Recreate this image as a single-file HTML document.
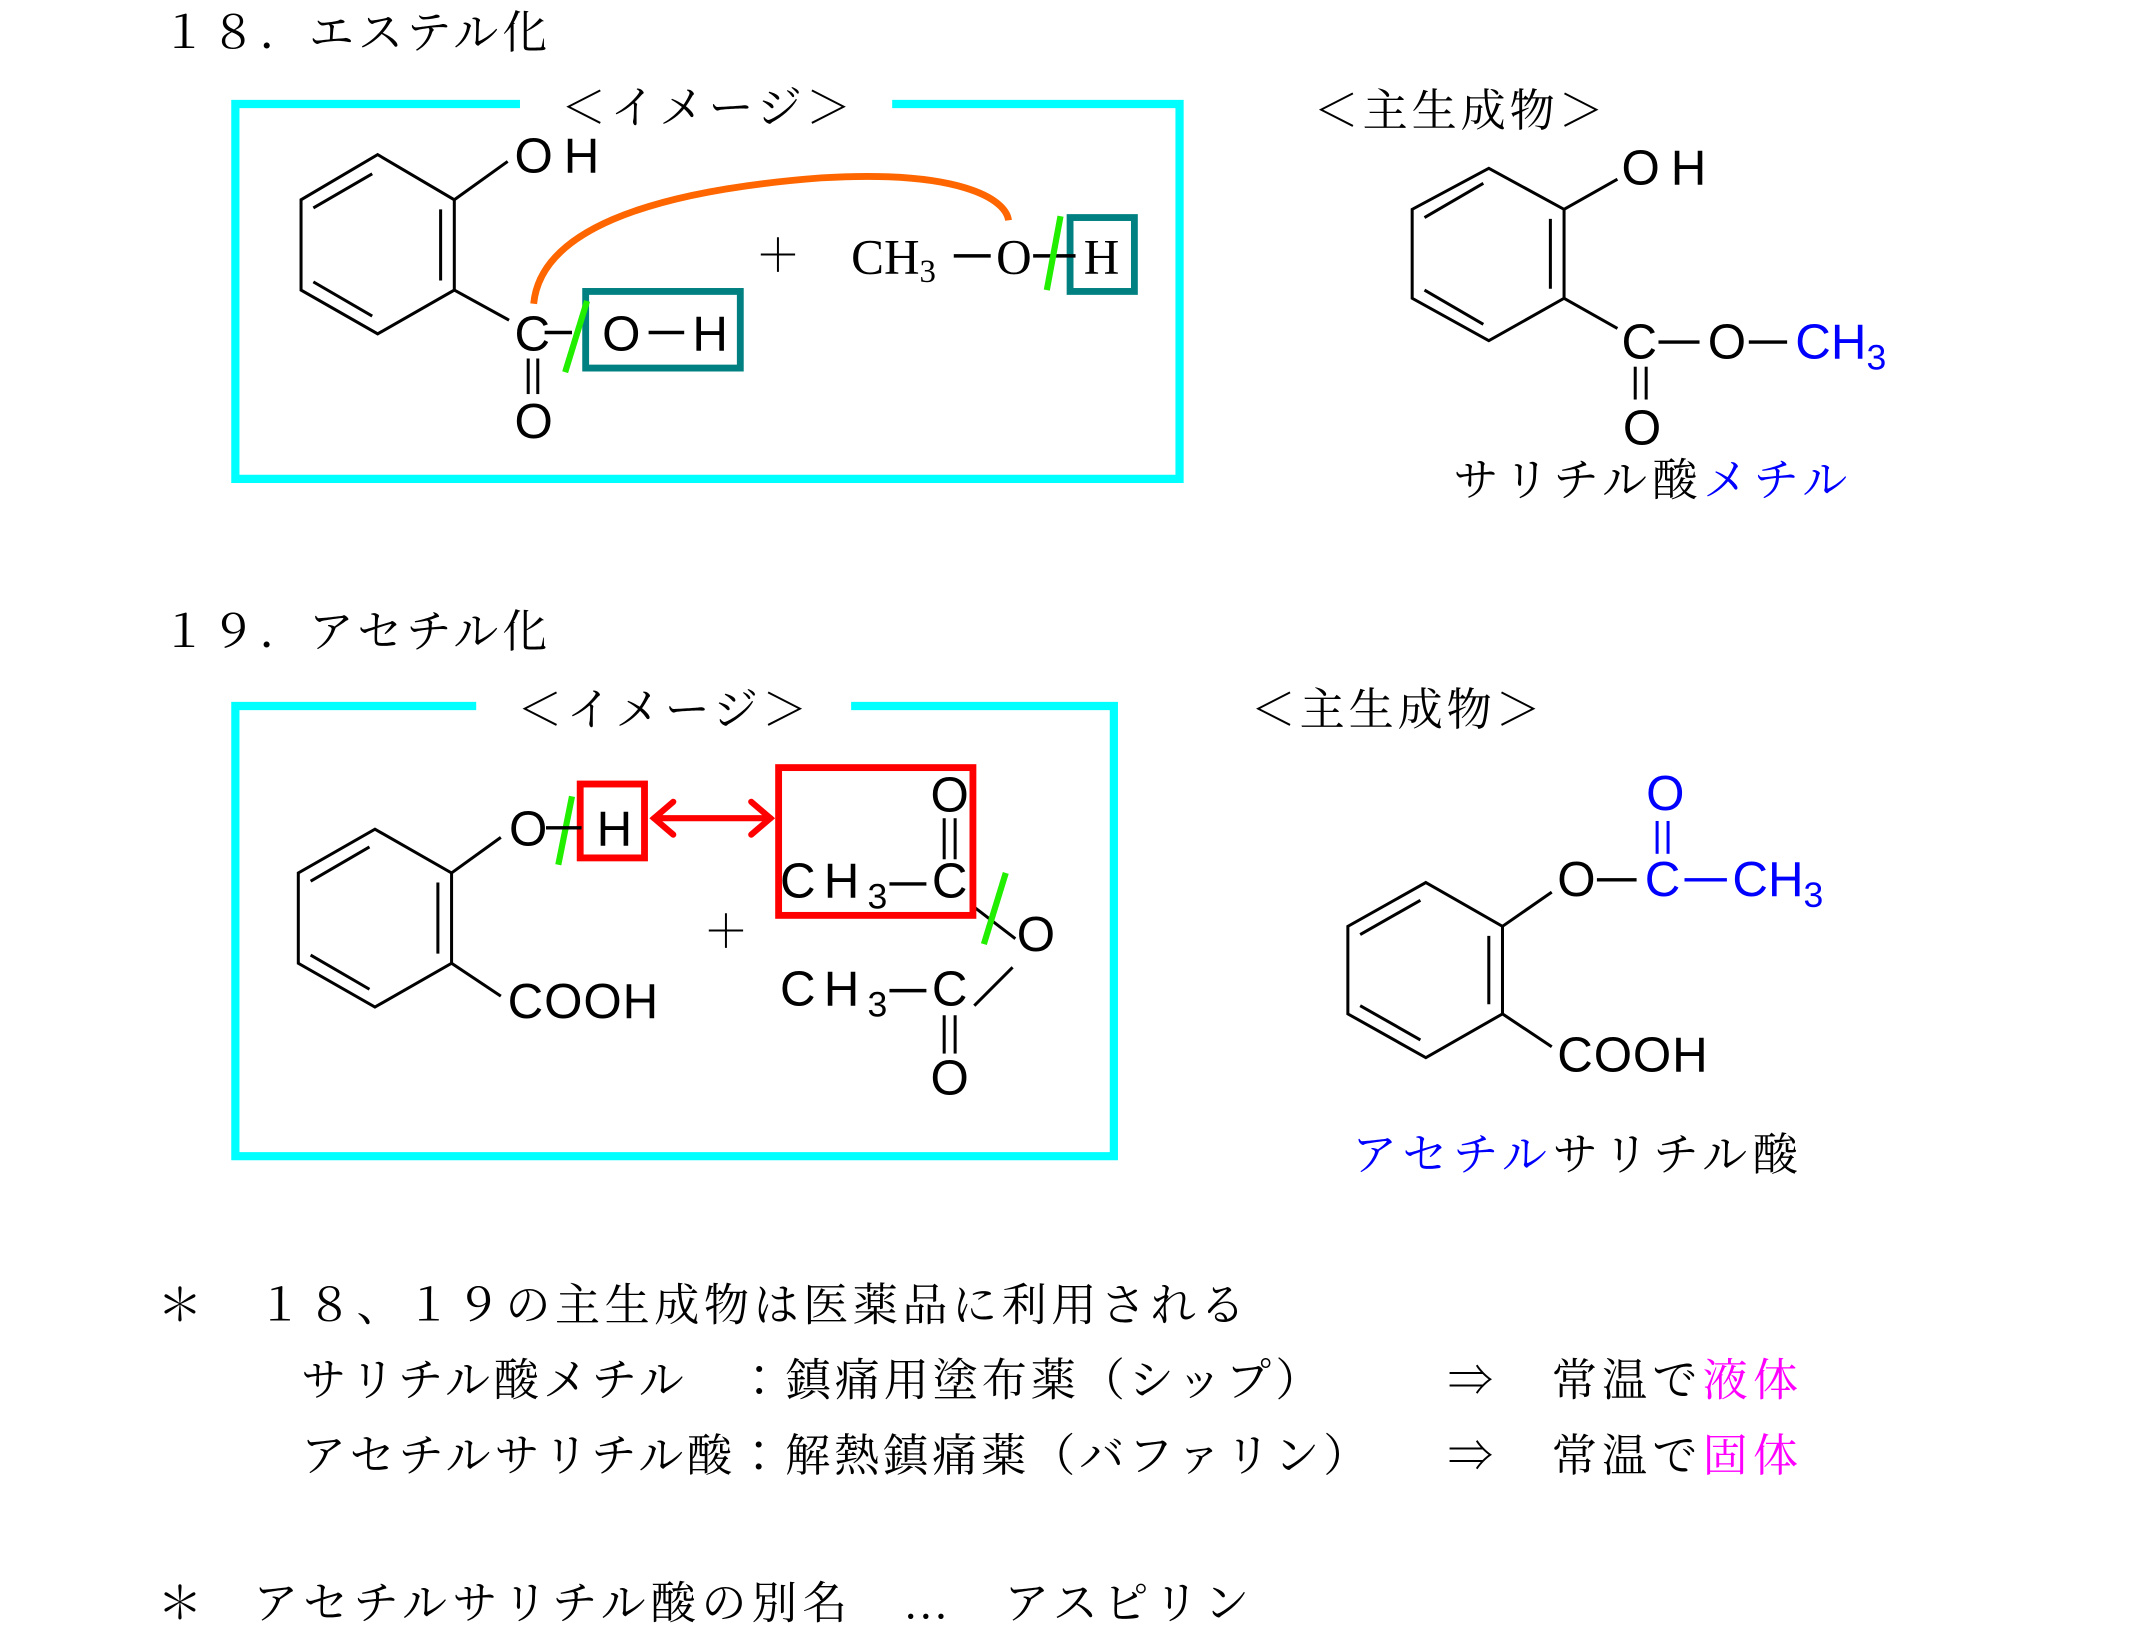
<!DOCTYPE html>
<html><head><meta charset="utf-8">
<style>
html,body{margin:0;padding:0;background:#fff;}
svg{display:block;}
.m{font-family:"Liberation Serif","Noto Serif CJK JP","Noto Serif CJK SC",serif;font-size:33px;fill:#000;}
.s{font-family:"Liberation Sans",sans-serif;font-size:36px;fill:#000;}
.b{fill:#0000ff;}
.sub{font-size:26px;}
.t{font-family:"Liberation Serif",serif;font-size:36px;fill:#000;}
</style></head>
<body>
<svg width="2147" height="1637" viewBox="0 0 1569 1196.4" preserveAspectRatio="none" xmlns="http://www.w3.org/2000/svg">
<g fill="none" stroke="#000" stroke-width="2.2">
<polygon points="276,113 332,146 332,212 276,244 220,212 220,146"/>
<line x1="229" y1="152" x2="272" y2="127"/><line x1="322" y1="153" x2="322" y2="205"/><line x1="229" y1="206" x2="272" y2="231"/>
<line x1="332" y1="146" x2="371" y2="118"/><line x1="332" y1="212" x2="372" y2="234"/>
<line x1="386" y1="262" x2="386" y2="288"/><line x1="393" y1="262" x2="393" y2="288"/>
<polygon points="1088,123 1143,153 1143,218 1088,249 1032,218 1032,153"/>
<line x1="1041" y1="159" x2="1084" y2="134"/><line x1="1133" y1="160" x2="1133" y2="211"/><line x1="1041" y1="212" x2="1084" y2="237"/>
<line x1="1143" y1="153" x2="1182" y2="131"/><line x1="1143" y1="218" x2="1182" y2="240"/>
<line x1="1195" y1="268" x2="1195" y2="292"/><line x1="1203" y1="268" x2="1203" y2="292"/>
<polygon points="274,606 330,638 330,704 274,736 218,704 218,638"/>
<line x1="227" y1="644" x2="270" y2="619"/><line x1="320" y1="645" x2="320" y2="697"/><line x1="227" y1="698" x2="270" y2="723"/>
<line x1="330" y1="638" x2="366" y2="612"/><line x1="330" y1="704" x2="366" y2="728"/>
<line x1="690" y1="598" x2="690" y2="628"/><line x1="698" y1="598" x2="698" y2="628"/>
<line x1="712" y1="663" x2="742" y2="686"/><line x1="740" y1="707" x2="712" y2="735"/>
<line x1="690" y1="742" x2="690" y2="770"/><line x1="698" y1="742" x2="698" y2="770"/>
<polygon points="1042,645 1098,677 1098,741 1042,773 985,741 985,677"/>
<line x1="994" y1="683" x2="1038" y2="658"/><line x1="1088" y1="684" x2="1088" y2="734"/><line x1="994" y1="735" x2="1038" y2="760"/>
<line x1="1098" y1="677" x2="1134" y2="652"/><line x1="1098" y1="741" x2="1134" y2="765"/>
</g>
<g fill="none" stroke="#0000ff" stroke-width="2.2">
<line x1="1211" y1="600" x2="1211" y2="624"/><line x1="1219" y1="600" x2="1219" y2="624"/>
</g>
<g fill="none" stroke="#00ffff" stroke-width="6">
<polyline points="380,76 172,76 172,350 862,350 862,76 652,76"/>
<polyline points="348,516 172,516 172,845 814,845 814,516 622,516"/>
</g>
<path d="M390,222 C395,170 470,140 600,130 C700,124 735,145 737,161" fill="none" stroke="#ff6600" stroke-width="5"/>
<rect x="428" y="213" width="113" height="56" fill="none" stroke="#008080" stroke-width="5"/>
<rect x="782" y="159" width="47" height="54" fill="none" stroke="#008080" stroke-width="5"/>
<rect x="424" y="573" width="47" height="54" fill="none" stroke="#ff0000" stroke-width="5"/>
<rect x="569" y="561" width="142" height="108" fill="none" stroke="#ff0000" stroke-width="5"/>
<g stroke="#ff0000" stroke-width="4.5" fill="none" stroke-linecap="round">
<line x1="478" y1="598" x2="563" y2="598"/>
<polyline points="492,586 478,598 492,610"/><polyline points="549,586 563,598 549,610"/>
</g>
<text class="m" x="118" y="35" textLength="282">１８．エステル化</text>
<text class="m" x="410" y="90" textLength="212">＜イメージ＞</text>
<text class="s" x="376" y="126" textLength="62">OH</text>
<text class="s" x="376" y="256">C</text>
<line x1="398" y1="243" x2="418" y2="243" stroke="#000" stroke-width="2.5"/>
<text class="s" x="440" y="256">O</text>
<line x1="474" y1="243" x2="500" y2="243" stroke="#000" stroke-width="2.5"/>
<text class="s" x="506" y="256">H</text>
<text class="s" x="376" y="320">O</text>
<text class="m" x="552" y="198">＋</text>
<text class="t" x="622" y="200">CH<tspan font-size="24" dy="6">3</tspan></text>
<line x1="697" y1="187" x2="724" y2="187" stroke="#000" stroke-width="2.5"/>
<text class="t" x="728" y="200">O</text>
<line x1="755" y1="187" x2="786" y2="187" stroke="#000" stroke-width="2.5"/>
<text class="t" x="792" y="200">H</text>
<g stroke="#22ee00" stroke-width="4.5">
<line x1="429" y1="220" x2="413" y2="272"/>
<line x1="775" y1="158" x2="765" y2="212"/>
<line x1="418" y1="582" x2="408" y2="632"/>
<line x1="735" y1="638" x2="719" y2="690"/>
</g>
<text class="m" x="960" y="92" textLength="212">＜主生成物＞</text>
<text class="s" x="1185" y="135" textLength="62">OH</text>
<text class="s" x="1185" y="262">C</text>
<line x1="1212" y1="250" x2="1242" y2="250" stroke="#000" stroke-width="2.5"/>
<text class="s" x="1248" y="262">O</text>
<line x1="1278" y1="250" x2="1306" y2="250" stroke="#000" stroke-width="2.5"/>
<text class="s b" x="1312" y="262">CH<tspan class="sub" dy="8">3</tspan></text>
<text class="s" x="1186" y="325">O</text>
<text class="m" x="1062" y="362" textLength="288">サリチル酸<tspan style="fill:#0000ff">メチル</tspan></text>

<text class="m" x="118" y="473" textLength="282">１９．アセチル化</text>
<text class="m" x="378" y="530" textLength="212">＜イメージ＞</text>
<text class="s" x="372" y="618">O</text>
<line x1="399" y1="605" x2="425" y2="605" stroke="#000" stroke-width="2.5"/>
<text class="s" x="436" y="618">H</text>
<text class="s" x="680" y="593">O</text>
<text class="s" x="570" y="656" letter-spacing="6">CH<tspan class="sub" dy="8" letter-spacing="0">3</tspan></text>
<line x1="650" y1="646" x2="677" y2="646" stroke="#000" stroke-width="2.5"/>
<text class="s" x="681" y="656">C</text>
<text class="s" x="743" y="695">O</text>
<text class="m" x="514" y="692">＋</text>
<text class="s" x="570" y="735" letter-spacing="6">CH<tspan class="sub" dy="8" letter-spacing="0">3</tspan></text>
<line x1="650" y1="724" x2="677" y2="724" stroke="#000" stroke-width="2.5"/>
<text class="s" x="681" y="735">C</text>
<text class="s" x="680" y="800">O</text>
<text class="s" x="371" y="744" textLength="110">COOH</text>

<text class="m" x="914" y="530" textLength="212">＜主生成物＞</text>
<text class="s b" x="1203" y="592">O</text>
<text class="s" x="1138" y="655">O</text>
<line x1="1167" y1="643" x2="1196" y2="643" stroke="#000" stroke-width="2.5"/>
<text class="s b" x="1202" y="655">C</text>
<line x1="1231" y1="643" x2="1262" y2="643" stroke="#0000ff" stroke-width="2.5"/>
<text class="s b" x="1266" y="655">CH<tspan class="sub" dy="8">3</tspan></text>
<text class="s" x="1138" y="783" textLength="110">COOH</text>
<text class="m" x="988" y="855" textLength="326"><tspan style="fill:#0000ff">アセチル</tspan>サリチル酸</text>

<text class="m" x="115" y="965">＊</text>
<text class="m" x="188" y="965" textLength="722">１８、１９の主生成物は医薬品に利用される</text>
<text class="m" x="220" y="1020" textLength="745">サリチル酸メチル　：鎮痛用塗布薬（シップ）</text>
<text class="m" x="1058" y="1020">⇒</text>
<text class="m" x="1134" y="1020" textLength="180">常温で<tspan style="fill:#ff00ff">液体</tspan></text>
<text class="m" x="220" y="1075" textLength="780">アセチルサリチル酸：解熱鎮痛薬（バファリン）</text>
<text class="m" x="1058" y="1075">⇒</text>
<text class="m" x="1134" y="1075" textLength="180">常温で<tspan style="fill:#ff00ff">固体</tspan></text>
<text class="m" x="115" y="1183">＊</text>
<text class="m" x="185" y="1183" textLength="728">アセチルサリチル酸の別名　…　アスピリン</text>
</svg>
</body></html>
